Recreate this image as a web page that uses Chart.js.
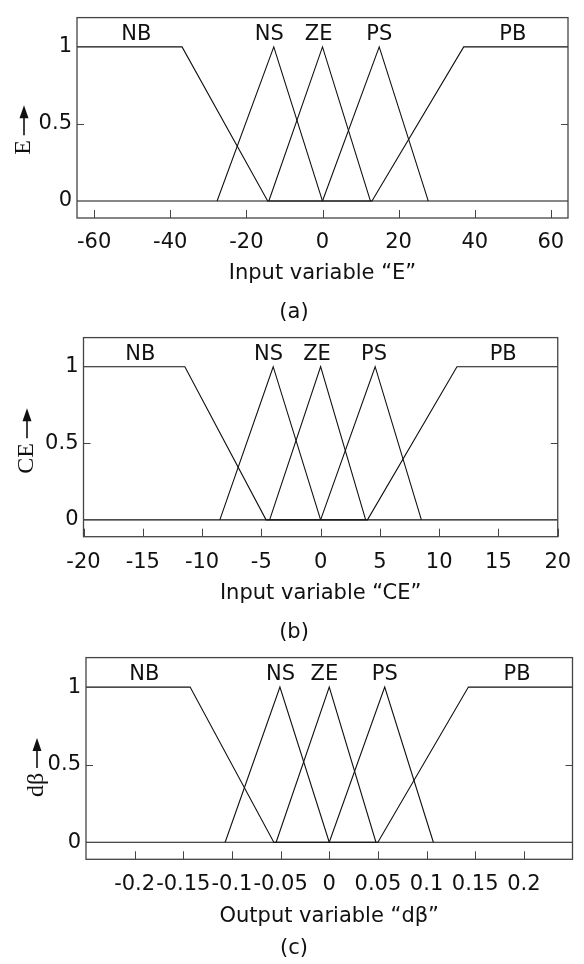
<!DOCTYPE html>
<html>
<head>
<meta charset="utf-8">
<script src="https://cdn.jsdelivr.net/npm/chart.js@4.4.0/dist/chart.umd.min.js"></script>
<style>
  html, body { margin: 0; padding: 0; background: #fff; overflow: hidden; }
  #painel { position: relative; width: 584px; height: 964px; }
  canvas { position: absolute; left: 0; }
</style>
</head>
<body>
<div id="painel">
  <canvas id="graficoE" width="584" height="330" style="top:0px"></canvas>
  <canvas id="graficoCE" width="584" height="330" style="top:320px"></canvas>
  <canvas id="graficoDB" width="584" height="324" style="top:640px"></canvas>
</div>
<script>
const conjuntos = ["NB", "NS", "ZE", "PS", "PB"];
const graus = [
  [1, 1, 0, 0],
  [0, 1, 0],
  [0, 1, 0],
  [0, 1, 0],
  [0, 0, 1, 1],
];
const yTicks = [0, 0.5, 1];

const quebrasE = [
  [-64.5, -36.9, -14.4, 64.5],
  [-27.7, -12.8, 0],
  [-14.1, 0, 12.6],
  [0, 14.9, 27.8],
  [-64.5, 13, 37.1, 64.5],
];
const rotulosE = [-48.9, -14, -1, 14.9, 50];

const quebrasCE = [
  [-20, -11.45, -4.6, 20],
  [-8.5, -4.0, 0],
  [-4.3, 0, 3.8],
  [0, 4.6, 8.5],
  [-20, 3.95, 11.5, 20],
];
const rotulosCE = [-15.2, -4.4, -0.3, 4.5, 15.4];

const quebrasDB = [
  [-0.25, -0.143, -0.057, 0.25],
  [-0.107, -0.0507, 0],
  [-0.0546, 0, 0.048],
  [0, 0.057, 0.107],
  [-0.25, 0.05, 0.143, 0.25],
];
const rotulosDB = [-0.19, -0.05, -0.005, 0.057, 0.193];

const fonteSans = "'DejaVu Sans'";
const corTexto = "#111";

function criarPainel(canvasId, p) {
  const canvas = document.getElementById(canvasId);
  const ctx = canvas.getContext("2d");

  const datasets = p.quebras.map((xs, i) => ({
    label: conjuntos[i],
    data: xs.map((x, j) => ({ x: x, y: graus[i][j] })),
    borderColor: "#111",
    borderWidth: 1.1,
    pointRadius: 0,
    tension: 0,
    fill: false,
  }));

  const moldura = {
    id: "moldura",
    afterDraw(chart) {
      const c = chart.ctx;
      const a = chart.chartArea;
      const x = chart.scales.x;
      const y = chart.scales.y;
      c.save();
      c.strokeStyle = "#444";
      c.lineWidth = 1.3;
      c.strokeRect(a.left, a.top, a.right - a.left, a.bottom - a.top);

      c.beginPath();
      c.lineWidth = 1;
      x.ticks.forEach((t) => {
        const px = Math.round(x.getPixelForValue(t.value)) + 0.5;
        c.moveTo(px, a.bottom);
        c.lineTo(px, a.bottom - 8);
      });
      const py = Math.round(y.getPixelForValue(0.5)) + 0.5;
      c.moveTo(a.left, py);
      c.lineTo(a.left + 7, py);
      c.moveTo(a.right, py);
      c.lineTo(a.right - 7, py);
      c.stroke();

      c.fillStyle = corTexto;
      c.font = "21px " + fonteSans;
      c.textAlign = "center";
      c.textBaseline = "middle";
      p.rotulos.forEach((v, i) => {
        c.fillText(conjuntos[i], x.getPixelForValue(v), y.getPixelForValue(1.078));
      });

      c.fillText(p.legenda, 294, p.legendaY);

      // titulo do eixo y com seta para cima
      c.translate(p.yTituloX, p.yTituloY);
      c.rotate(-Math.PI / 2);
      c.font = "24px 'Liberation Serif'";
      c.textAlign = "left";
      const tw = c.measureText(p.tituloY).width;
      const seta = 30;
      const total = tw + 5 + seta;
      const ini = -total / 2;
      c.fillText(p.tituloY, ini, 0);
      c.beginPath();
      c.lineWidth = 1.6;
      c.strokeStyle = "#111";
      c.moveTo(ini + tw + 5, 0);
      c.lineTo(ini + total - 10, 0);
      c.stroke();
      c.beginPath();
      c.moveTo(ini + total, 0);
      c.lineTo(ini + total - 13, -4.5);
      c.lineTo(ini + total - 13, 4.5);
      c.closePath();
      c.fill();
      c.restore();
    },
  };

  const fonte = { family: fonteSans, size: 21 };

  return new Chart(ctx, {
    type: "line",
    data: { datasets: datasets },
    options: {
      responsive: false,
      animation: false,
      events: [],
      layout: {
        padding: { left: 0, top: p.topo, right: 584 - p.direita, bottom: p.base },
      },
      plugins: {
        legend: { display: false },
        tooltip: { enabled: false },
      },
      scales: {
        x: {
          type: "linear",
          min: p.xMin,
          max: p.xMax,
          grid: { display: false, drawTicks: false },
          border: { display: false },
          afterBuildTicks: (s) => {
            s.ticks = s.ticks.filter((t) => Math.abs(t.value) <= p.limiteTick + 1e-9);
          },
          afterFit: (s) => {
            s.height = p.alturaX;
          },
          ticks: {
            stepSize: p.passo,
            includeBounds: false,
            autoSkip: false,
            maxRotation: 0,
            padding: p.padTick,
            color: corTexto,
            font: fonte,
            callback: (v) => Number(Number(v).toFixed(2)).toString(),
          },
          title: {
            display: true,
            text: p.tituloX,
            padding: 0,
            color: corTexto,
            font: fonte,
          },
        },
        y: {
          type: "linear",
          min: -0.11,
          max: 1.19,
          grid: { display: false, drawTicks: false },
          border: { display: false },
          afterBuildTicks: (s) => {
            s.ticks = yTicks.map((v) => ({ value: v }));
          },
          afterFit: (s) => {
            s.width = p.esquerda;
          },
          ticks: {
            padding: 5,
            color: corTexto,
            font: fonte,
            callback: (v) => String(v),
          },
        },
      },
    },
    plugins: [moldura],
  });
}

criarPainel("graficoE", {
  quebras: quebrasE, rotulos: rotulosE,
  xMin: -64.5, xMax: 64.5, passo: 20, limiteTick: 60,
  topo: 7, direita: 568, esquerda: 77, base: 43.4, alturaX: 68.6, padTick: 12.4,
  tituloX: "Input variable \u201cE\u201d", tituloY: "E",
  yTituloX: 24, yTituloY: 130, legenda: "(a)", legendaY: 313,
});

criarPainel("graficoCE", {
  quebras: quebrasCE, rotulos: rotulosCE,
  xMin: -20, xMax: 20, passo: 5, limiteTick: 20,
  topo: 6.7, direita: 564.5, esquerda: 83.5, base: 43.4, alturaX: 69.9, padTick: 12.9,
  tituloX: "Input variable \u201cCE\u201d", tituloY: "CE",
  yTituloX: 27, yTituloY: 121, legenda: "(b)", legendaY: 312.5,
});

criarPainel("graficoDB", {
  quebras: quebrasDB, rotulos: rotulosDB,
  xMin: -0.25, xMax: 0.25, passo: 0.05, limiteTick: 0.2,
  topo: 5.7, direita: 572.5, esquerda: 86, base: 34.7, alturaX: 70, padTick: 13.1,
  tituloX: "Output variable \u201cd\u03b2\u201d", tituloY: "d\u03b2",
  yTituloX: 37, yTituloY: 127.5, legenda: "(c)", legendaY: 309,
});
</script>
</body>
</html>
